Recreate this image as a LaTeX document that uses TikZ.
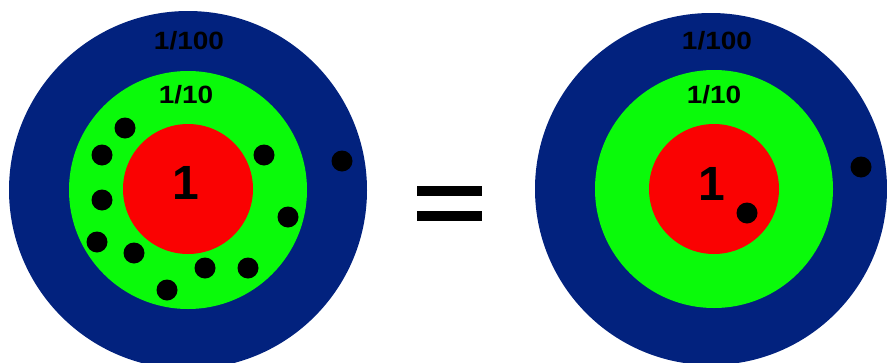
\documentclass[tikz,border=0pt]{standalone}
\usepackage{fontspec}
\setmainfont{Liberation Sans}
\usepackage{tikz}
\usetikzlibrary{positioning}
\definecolor{ringblue}{RGB}{2,34,126}
\definecolor{ringgreen}{RGB}{10,250,10}
\definecolor{ringred}{RGB}{250,2,2}

\begin{document}
\begin{tikzpicture}[
    x=1pt, y=-1pt,
    ring/.style={circle, inner sep=0pt, draw=none},
    hit/.style={circle, fill=black, inner sep=0pt, minimum size=21pt},
    score/.style={font=\bfseries\fontsize{25}{25}\selectfont, text=black, xscale=1.12},
    bull/.style={font=\bfseries\fontsize{48}{48}\selectfont, text=black},
    bar/.style={fill=black, draw=none}
]
    \useasboundingbox (0,0) rectangle (887,362);
    \clip (0,0) rectangle (887,362);

    % left target
    \node[ring, fill=ringblue, minimum size=358pt] (outerL) at (188,190) {};
    \node[ring, fill=ringgreen, minimum size=238pt] (midL) at (188,190) {};
    \node[ring, fill=ringred, minimum size=130pt] (innerL) at (188,189) {};
    \node[score] (hundL) at (189,41) {1/100};
    \node[score] (tenL) at (186,95) {1/10};
    \node[bull] (oneL) at (186,183) {1};

    \node[hit] (l1) at (125,128) {};
    \node[hit] (l2) at (102,155) {};
    \node[hit] (l3) at (102,200) {};
    \node[hit] (l4) at (97,242) {};
    \node[hit] (l5) at (134,253) {};
    \node[hit] (l6) at (167,290) {};
    \node[hit] (l7) at (205,268) {};
    \node[hit] (l8) at (248,268) {};
    \node[hit] (l9) at (288,217) {};
    \node[hit] (l10) at (264,155) {};
    \node[hit] (l11) at (342,161) {};

    % equals sign
    \fill[bar] (417,186) rectangle (482,196);
    \fill[bar] (417,211) rectangle (482,221);

    % right target
    \node[ring, fill=ringblue, minimum size=352pt] (outerR) at (711,189) {};
    \node[ring, fill=ringgreen, minimum size=238pt] (midR) at (714,189) {};
    \node[ring, fill=ringred, minimum size=130pt] (innerR) at (714,189) {};
    \node[score] (hundR) at (717,41) {1/100};
    \node[score] (tenR) at (714,95) {1/10};
    \node[bull] (oneR) at (712,184) {1};

    \node[hit] (r1) at (747,213) {};
    \node[hit] (r2) at (861,167) {};
\end{tikzpicture}
\end{document}
